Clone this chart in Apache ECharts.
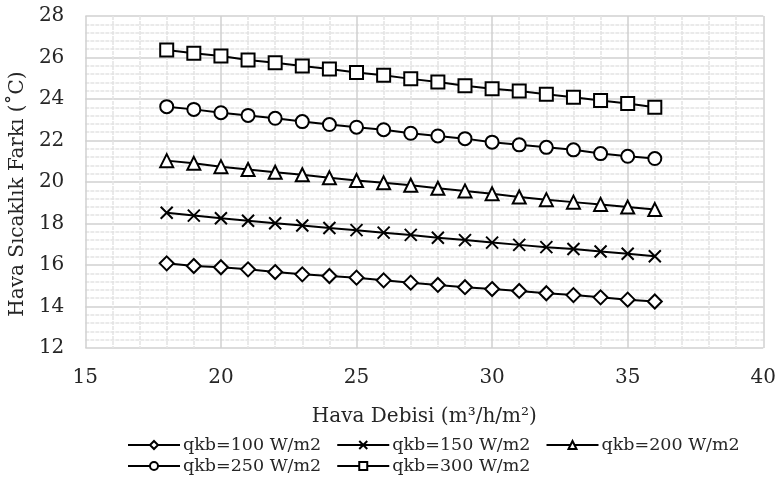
<!DOCTYPE html>
<html><head><meta charset="utf-8">
<script src="https://cdn.jsdelivr.net/npm/echarts@6/dist/echarts.min.js"></script>
<style>html,body{margin:0;padding:0;background:#fff}#c{width:779px;height:481px}</style>
</head><body><div id="c"></div>
<script>
const xValues = [18,19,20,21,22,23,24,25,26,27,28,29,30,31,32,33,34,35,36];
const seriesNames = ['qkb=100 W/m2','qkb=150 W/m2','qkb=200 W/m2','qkb=250 W/m2','qkb=300 W/m2'];
const q100 = [16.08,15.95,15.89,15.79,15.66,15.55,15.47,15.39,15.26,15.15,15.04,14.93,14.84,14.75,14.64,14.55,14.44,14.33,14.24];
const q150 = [18.52,18.38,18.25,18.13,18.01,17.90,17.78,17.68,17.56,17.45,17.31,17.20,17.08,16.97,16.86,16.77,16.65,16.54,16.42];
const q200 = [21.03,20.90,20.74,20.60,20.47,20.35,20.20,20.07,19.96,19.84,19.70,19.57,19.43,19.28,19.15,19.03,18.92,18.79,18.67];
const q250 = [23.63,23.50,23.34,23.21,23.07,22.91,22.77,22.64,22.52,22.35,22.22,22.09,21.92,21.79,21.67,21.55,21.37,21.24,21.13];
const q300 = [26.36,26.20,26.07,25.88,25.75,25.59,25.45,25.28,25.15,24.97,24.82,24.64,24.49,24.38,24.23,24.08,23.93,23.78,23.60];
const allValues = [q100,q150,q200,q250,q300];
const symbols = ['diamond','path://M0,0L10,10M0,10L10,0','triangle','circle','rect'];
const sizes = [14,12,13,13,13];
const font = 'DejaVu Serif';
const txt = '#262626';

const legendText = {fontFamily:font,fontSize:17.5,color:txt,padding:[0,0,0,-2]};
const chart = echarts.init(document.getElementById('c'), null, {renderer:'canvas'});
chart.setOption({
  animation:false,
  textStyle:{fontFamily:font,color:txt},
  grid:{left:82,right:14,top:16,bottom:133},
  legend:[
    {left:122, top:431, itemGap:15, itemWidth:52, itemHeight:10, textStyle:legendText, data:seriesNames.slice(0,3)},
    {left:122, top:452, itemGap:15, itemWidth:52, itemHeight:10, textStyle:legendText, data:seriesNames.slice(3)}
  ],
  xAxis:{
    type:'value',min:15,max:40,interval:5,
    name:'Hava Debisi (m³/h/m²)',nameLocation:'middle',nameGap:59,
    nameTextStyle:{fontFamily:font,fontSize:20,color:txt},
    axisLine:{show:false},axisTick:{show:false},
    axisLabel:{fontFamily:font,fontSize:20,color:txt,margin:20},
    splitLine:{show:true,lineStyle:{color:'#d0d0d0',width:1.5}},
    minorTick:{show:false,splitNumber:5},
    minorSplitLine:{show:true,lineStyle:{color:'#e4e4e4',width:1.5,type:[4,1]}}
  },
  yAxis:{
    type:'value',min:12,max:28,interval:2,
    name:'Hava Sıcaklık Farkı (˚C)',nameLocation:'middle',nameGap:53,
    nameTextStyle:{fontFamily:font,fontSize:20,color:txt,padding:[0,24,0,0]},
    axisLine:{show:false},axisTick:{show:false},
    axisLabel:{fontFamily:font,fontSize:20,color:txt,margin:21},
    splitLine:{show:true,lineStyle:{color:'#d0d0d0',width:1.5}},
    minorTick:{show:false,splitNumber:5},
    minorSplitLine:{show:true,lineStyle:{color:'#e4e4e4',width:1.5,type:[4,1]}}
  },
  series: seriesNames.map((n,i)=>({
    name:n,type:'line',
    data:xValues.map((x,j)=>[x,allValues[i][j]]),
    symbol:symbols[i],symbolSize:sizes[i],showAllSymbol:true,
    lineStyle:{color:'#000',width:2},
    itemStyle:{color:i===1?'#000':'#fff',borderColor:'#000',borderWidth:2}
  }))
});
</script></body></html>
